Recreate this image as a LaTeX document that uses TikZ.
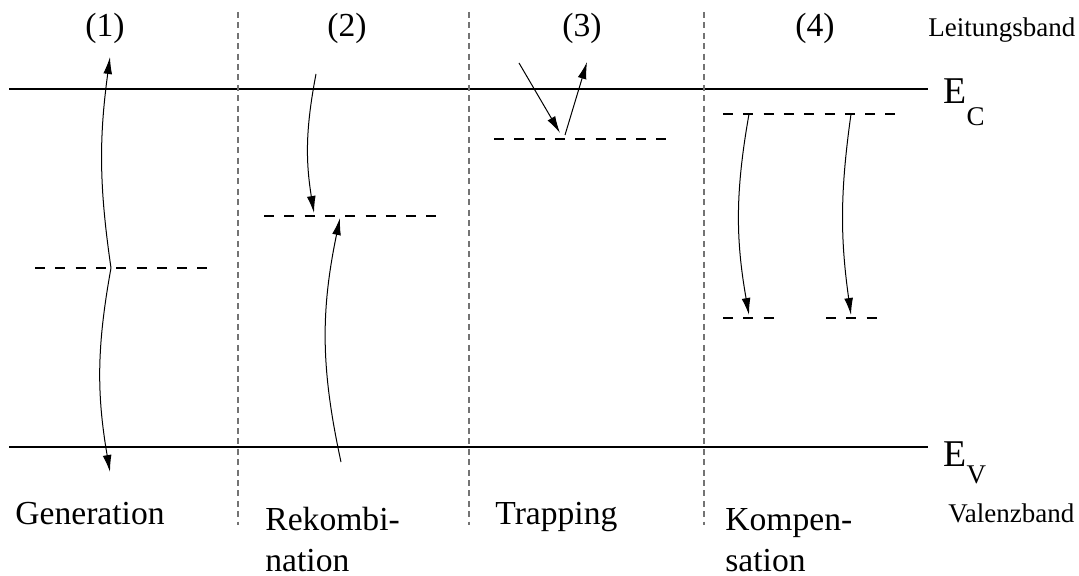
\documentclass[tikz,border=0pt]{standalone}
\usepackage{fontspec}
\setmainfont{Liberation Serif}
\usetikzlibrary{arrows.meta, positioning}

\begin{document}
\begin{tikzpicture}[
    x=0.5pt, y=0.5pt,
    band/.style={line width=1pt},
    level/.style={line width=0.9pt, dash pattern=on 5pt off 5.15pt},
    sep/.style={line width=0.6pt, black!55, dash pattern=on 3pt off 2.2pt},
    trans/.style={line width=0.5pt, -{Latex[length=8.5pt,width=4.4pt]}},
    lbl/.style={font=\fontsize{16.8}{20.5}\selectfont, inner sep=0pt, align=left},
    small/.style={font=\fontsize{13.5}{16}\selectfont, inner sep=0pt},
    energy/.style={font=\fontsize{18.9}{20}\selectfont, inner sep=0pt}
]
\useasboundingbox (0,0) rectangle (1079,-576);

\draw[band] (9,-89) -- (928,-89);
\draw[band] (9,-447) -- (928,-447);
\foreach \x in {238,469,704}
    \draw[sep] (\x,-12) -- (\x,-525);

\node[lbl, anchor=base] (n1) at (105,-37) {(1)};
\node[lbl, anchor=base] (n2) at (347,-37) {(2)};
\node[lbl, anchor=base] (n3) at (582,-37) {(3)};
\node[lbl, anchor=base] (n4) at (815,-37) {(4)};
\node[small, anchor=base west] (lb) at (928,-37) {Leitungsband};
\node[small, anchor=base west] (vb) at (948,-522) {Valenzband};
\node[energy, anchor=base west] (EC) at (943,-104) {E\raisebox{-11pt}{\fontsize{13.5}{14}\selectfont C}};
\node[energy, anchor=base west] (EV) at (943,-466) {E\raisebox{-8.5pt}{\fontsize{13.5}{14}\selectfont V}};

\node[lbl, anchor=base west] (gen) at (15,-524) {Generation};
\node[lbl, anchor=base west] (rek) at (265,-571) {Rekombi-\\nation};
\node[lbl, anchor=base west] (trap) at (495,-524) {Trapping};
\node[lbl, anchor=base west] (komp) at (725,-571) {Kompen-\\sation};

\draw[level] (35,-268) -- (208,-268);
\draw[level] (264,-216) -- (438,-216);
\draw[level] (494,-139) -- (668,-139);
\draw[level] (723,-114) -- (897,-114);
\draw[level] (723,-318) -- (775,-318);
\draw[level] (826,-318) -- (878,-318);

\coordinate (g0) at (111,-268);
\coordinate (gc) at (110,-57);
\coordinate (gv) at (110,-472);
\coordinate (r1) at (316,-74);
\coordinate (r2) at (314,-213);
\coordinate (r3) at (341,-462);
\coordinate (r4) at (340,-218);
\coordinate (t1) at (519,-63);
\coordinate (t2) at (560,-133);
\coordinate (t3) at (565,-135);
\coordinate (t4) at (587,-62);
\coordinate (k1) at (749,-114);
\coordinate (k2) at (749,-315);
\coordinate (k3) at (851,-114);
\coordinate (k4) at (851,-315);

\draw[trans] (g0) to[bend left=8] (gc);
\draw[trans] (g0) to[bend right=10] (gv);
\draw[trans] (r1) to[bend right=10] (r2);
\draw[trans] (r3) to[bend left=12] (r4);
\draw[trans] (t1) -- (t2);
\draw[trans] (t3) -- (t4);
\draw[trans] (k1) to[bend right=10] (k2);
\draw[trans] (k3) to[bend right=8] (k4);
\end{tikzpicture}
\end{document}
